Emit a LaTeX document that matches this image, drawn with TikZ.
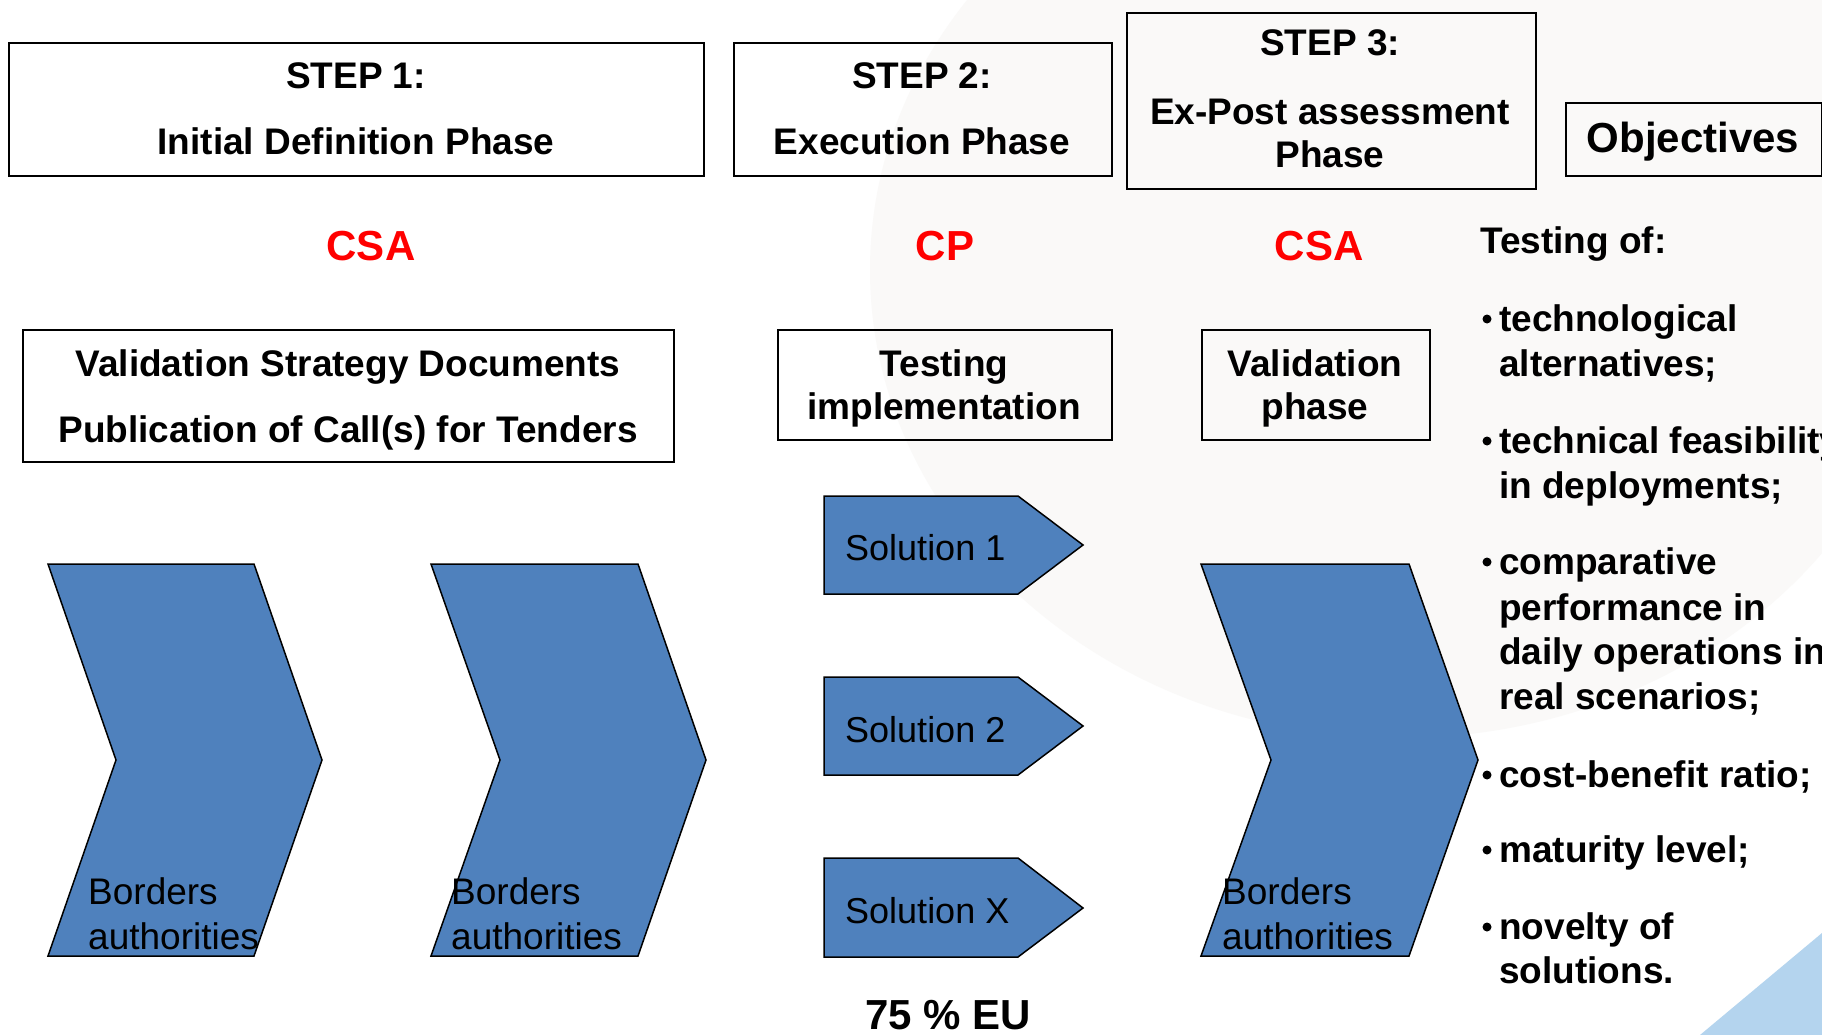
\documentclass[tikz,border=0pt]{standalone}
\usepackage{fontspec}
\setmainfont{Liberation Sans}
\definecolor{officeblue}{RGB}{79,129,189}
\definecolor{haze}{RGB}{250,249,248}
\definecolor{decoblue}{RGB}{180,212,238}
\begin{document}
\begin{tikzpicture}[x=1pt,y=-1pt,
  boxline/.style={draw=black, line width=2pt, inner sep=0pt, anchor=north west},
  boldc/.style={anchor=base, inner sep=0pt, font=\fontsize{37}{44}\selectfont\bfseries},
  bigbold/.style={anchor=base, inner sep=0pt, font=\fontsize{42}{50}\selectfont\bfseries},
  redlab/.style={bigbold, text=red},
  boldw/.style={anchor=base west, inner sep=0pt, font=\fontsize{37}{44}\selectfont\bfseries},
  regw/.style={anchor=base west, inner sep=0pt, font=\fontsize{37}{44}\selectfont},
  solw/.style={anchor=base west, inner sep=0pt, font=\fontsize{36}{44}\selectfont},
  bulletdot/.style={circle, fill=black, inner sep=0pt, minimum size=9pt},
  bluefill/.style={fill=officeblue, draw=black, line width=1.5pt, line join=miter}
]
% page area and background decoration
\clip (0,0) rectangle (1822,1035);
\fill[white] (0,0) rectangle (1822,1035);
\fill[haze] (1400,270) ellipse [x radius=530, y radius=468];
\fill[decoblue] (1700,1035) -- (1822,933) -- (1822,1035) -- cycle;

% header boxes
\node[boxline, minimum width=695pt, minimum height=133pt] (step1) at (8,42) {};
\node[boxline, minimum width=378pt, minimum height=133pt] (step2) at (733,42) {};
\node[boxline, minimum width=409pt, minimum height=176pt] (step3) at (1126,12) {};
\node[boxline, minimum width=256pt, minimum height=73pt] (objbox) at (1565,102) {};

\node[boldc] (s1a) at (356,89) {STEP 1:};
\node[boldc] (s1b) at (356,155) {Initial Definition Phase};
\node[boldc] (s2a) at (922,89) {STEP 2:};
\node[boldc] (s2b) at (922,155) {Execution Phase};
\node[boldc] (s3a) at (1330,56) {STEP 3:};
\node[boldc] (s3b) at (1330,125) {Ex-Post assessment};
\node[boldc] (s3c) at (1330,168) {Phase};
\node[bigbold] (objt) at (1693,153) {Objectives};

% funding labels
\node[redlab] (csa1) at (371,260) {CSA};
\node[redlab] (cp) at (945,260) {CP};
\node[redlab] (csa2) at (1319,260) {CSA};

% phase content boxes
\node[boxline, minimum width=651pt, minimum height=132pt] (vsd) at (22,329) {};
\node[boxline, minimum width=334pt, minimum height=110pt] (timpl) at (777,329) {};
\node[boxline, minimum width=228pt, minimum height=110pt] (valph) at (1201,329) {};

\node[boldc] (vsda) at (348,376) {Validation Strategy Documents};
\node[boldc] (vsdb) at (348,442) {Publication of Call(s) for Tenders};
\node[boldc] (tia) at (944,376) {Testing};
\node[boldc] (tib) at (944,419) {implementation};
\node[boldc] (vpa) at (1315,376) {Validation};
\node[boldc] (vpb) at (1315,419) {phase};

% chevrons
\draw[bluefill] (48,564) -- (254,564) -- (322,760) -- (254,956) -- (48,956) -- (116,760) -- cycle;
\draw[bluefill] (431,564) -- (638,564) -- (706,760) -- (638,956) -- (431,956) -- (500,760) -- cycle;
\draw[bluefill] (1201,564) -- (1409,564) -- (1478,760) -- (1409,956) -- (1201,956) -- (1271,760) -- cycle;

\node[regw] (ba1) at (88,904) {Borders};
\node[regw] (bb1) at (88,949) {authorities};
\node[regw] (ba2) at (451,904) {Borders};
\node[regw] (bb2) at (451,949) {authorities};
\node[regw] (ba3) at (1222,904) {Borders};
\node[regw] (bb3) at (1222,949) {authorities};

% solution pentagons
\draw[bluefill] (824,496) -- (1018,496) -- (1083,545) -- (1018,594) -- (824,594) -- cycle;
\draw[bluefill] (824,677) -- (1018,677) -- (1083,726) -- (1018,775) -- (824,775) -- cycle;
\draw[bluefill] (824,858) -- (1018,858) -- (1083,908) -- (1018,957) -- (824,957) -- cycle;
\node[solw] (sol1) at (845,560) {Solution 1};
\node[solw] (sol2) at (845,742) {Solution 2};
\node[solw] (solx) at (845,923) {Solution X};

\node[bigbold] (eu) at (948,1029) {75 \% EU};

% objectives list
\node[boldw] (tof) at (1480,253) {Testing of:};
\node[bulletdot] (d1) at (1487,319) {};
\node[boldw] (o1a) at (1499,331) {technological};
\node[boldw] (o1b) at (1499,376) {alternatives;};
\node[bulletdot] (d2) at (1487,441) {};
\node[boldw] (o2a) at (1499,453) {technical feasibility};
\node[boldw] (o2b) at (1499,498) {in deployments;};
\node[bulletdot] (d3) at (1487,562) {};
\node[boldw] (o3a) at (1499,574) {comparative};
\node[boldw] (o3b) at (1499,620) {performance in};
\node[boldw] (o3c) at (1499,664) {daily operations in};
\node[boldw] (o3d) at (1499,709) {real scenarios;};
\node[bulletdot] (d4) at (1487,775) {};
\node[boldw] (o4) at (1499,787) {cost-benefit ratio;};
\node[bulletdot] (d5) at (1487,850) {};
\node[boldw] (o5) at (1499,862) {maturity level;};
\node[bulletdot] (d6) at (1487,927) {};
\node[boldw] (o6a) at (1499,939) {novelty of};
\node[boldw] (o6b) at (1499,983) {solutions.};
\end{tikzpicture}
\end{document}
